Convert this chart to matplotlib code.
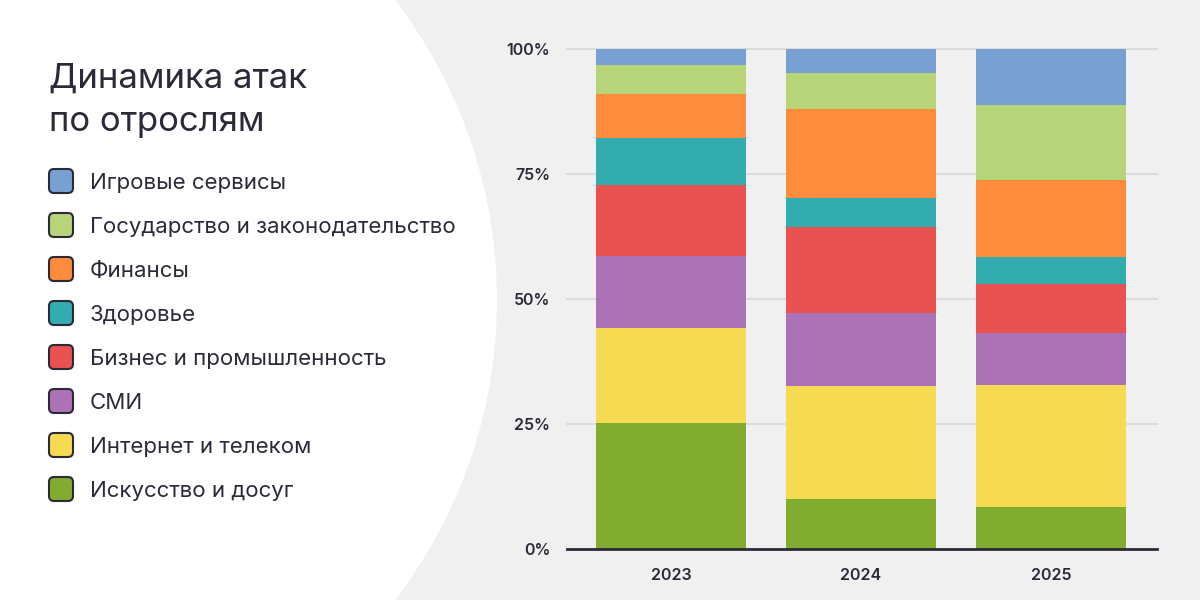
import numpy as np
import matplotlib
matplotlib.use('Agg')
import matplotlib.pyplot as plt
from matplotlib.patches import Circle, FancyBboxPatch

plt.rcParams['font.family'] = ['Inter', 'DejaVu Sans']

# данные (доли атак, %)
years = ['2023', '2024', '2025']
sectors = ['Искусство и досуг', 'Интернет и телеком', 'СМИ', 'Бизнес и промышленность',
           'Здоровье', 'Финансы', 'Государство и законодательство', 'Игровые сервисы']
art = [25.3, 10.0, 8.4]
telecom = [18.9, 22.6, 24.4]
smi = [14.4, 14.7, 10.5]
business = [14.2, 17.2, 9.8]
health = [9.4, 5.8, 5.3]
finance = [8.8, 17.8, 15.4]
gov = [5.8, 7.2, 15.0]
games = [3.2, 4.7, 11.2]
colors = ['#82ac30', '#f6da52', '#ac72b6', '#ea5252', '#33acb0', '#ff8c3c', '#b8d47a', '#78a0d2']

series = [art, telecom, smi, business, health, finance, gov, games]
dark = '#2a2a38'

fig = plt.figure(figsize=(12, 6), dpi=100)
fig.patch.set_facecolor('#f0f0f0')

# фон: белый круг слева
bg = fig.add_axes([0, 0, 1, 1], zorder=0)
bg.set_xlim(0, 1200)
bg.set_ylim(600, 0)
bg.axis('off')
bg.add_patch(Circle((5, 300), 492, facecolor='white', edgecolor='none'))

bg.text(49, 88, 'Динамика атак', fontsize=25, color=dark, va='baseline')
bg.text(49, 131, 'по отрослям', fontsize=25, color=dark, va='baseline')

legend_order = list(range(len(sectors)))[::-1]
for i, k in enumerate(legend_order):
    yc = 181 + 44 * i
    bg.add_patch(FancyBboxPatch((49, yc - 12), 24, 24, boxstyle='round,pad=0,rounding_size=5',
                                facecolor=colors[k], edgecolor=dark, linewidth=1.5))
    bg.text(90, yc + 2, sectors[k], fontsize=16, color=dark, va='center')

ax = fig.add_axes([567 / 1200, 1 - 549 / 600, 590 / 1200, 500 / 600], zorder=1)
ax.set_facecolor('none')
x = np.arange(len(years))
bottom = np.zeros(len(years))
for vals, c in zip(series, colors):
    ax.bar(x, vals, bottom=bottom, width=0.79, color=c, zorder=2)
    bottom += np.array(vals)

ax.set_xlim(-0.55, 2.56)
ax.set_ylim(0, 100)
ax.set_yticks([0, 25, 50, 75, 100])
ax.set_yticklabels(['0%', '25%', '50%', '75%', '100%'])
ax.set_xticks(x)
ax.set_xticklabels(years)
for y in [25, 50, 75, 100]:
    ax.axhline(y, color='#d9dcdc', linewidth=1.5, zorder=1, clip_on=False)
ax.axhline(0, color=dark, linewidth=2, zorder=3, clip_on=False)
for s in ax.spines.values():
    s.set_visible(False)
ax.tick_params(length=0, colors=dark, labelsize=11.5)
ax.tick_params(axis='y', pad=12)
ax.tick_params(axis='x', pad=14)
for lbl in ax.get_xticklabels() + ax.get_yticklabels():
    lbl.set_fontweight('semibold')

fig.savefig('out.png', dpi=100, facecolor=fig.get_facecolor())
